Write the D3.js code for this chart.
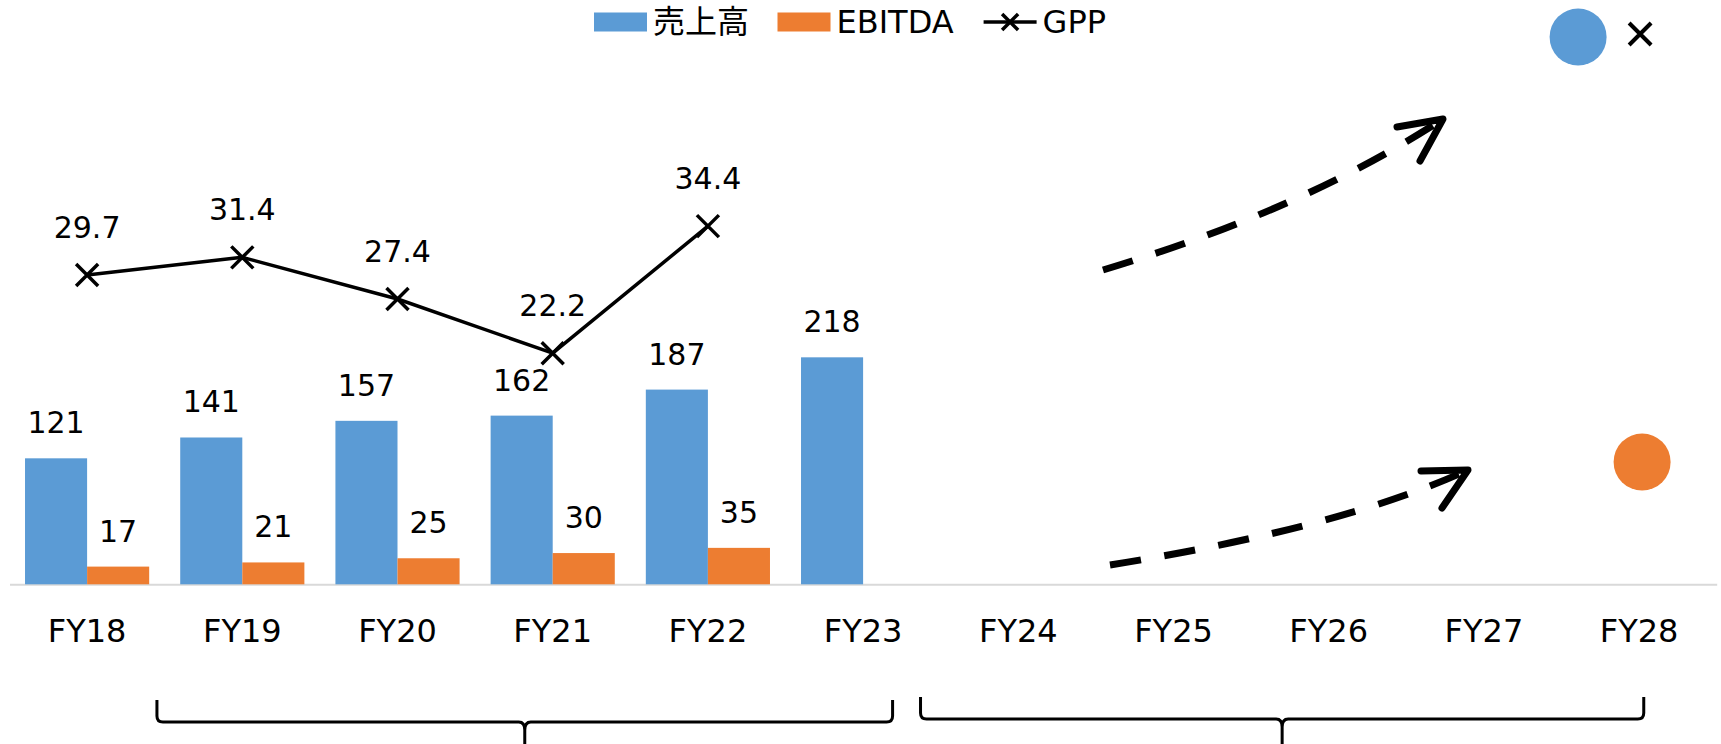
<!DOCTYPE html>
<html>
<head>
<meta charset="utf-8">
<script src="https://cdn.jsdelivr.net/npm/d3@7/dist/d3.min.js"></script>
<style>
  html, body { margin: 0; padding: 0; background: #ffffff; }
  svg { display: block; }
  text { font-family: "DejaVu Sans", "Noto Sans CJK JP", sans-serif; fill: #000; }
</style>
</head>
<body>
<svg id="chart" width="1721" height="744"></svg>
<script>
// Fiscal years on the category axis
const categories = ["FY18", "FY19", "FY20", "FY21", "FY22", "FY23", "FY24", "FY25", "FY26", "FY27", "FY28"];
// 売上高 (sales)
const sales = [121, 141, 157, 162, 187, 218, null, null, null, null, null];
// EBITDA
const ebitda = [17, 21, 25, 30, 35, null, null, null, null, null, null];
// GPP (secondary axis)
const gpp = [29.7, 31.4, 27.4, 22.2, 34.4, null, null, null, null, null, null];
// Legend entries
const legendLabels = ["売上高", "EBITDA", "GPP"];
// Period groupings shown by the braces under the axis (category index span)
const periodSpans = [[0.45, 5.19], [5.37, 10.03]];

const colors = { sales: "#5b9bd5", ebitda: "#ed7d31", gpp: "#000000" };

const svg = d3.select("#chart");
const baseY = 584.3, topY = 324;

const x = d3.scaleBand().domain(categories).range([9.5, 1716.7]).padding(0);
const xs = d3.scaleBand().domain(["sales", "ebitda"]).range([0, x.bandwidth()])
  .paddingInner(0).paddingOuter(0.25);
const y1 = d3.scaleLinear().domain([0, 250]).range([baseY, topY]);
const y2 = d3.scaleLinear().domain([0, 25]).range([baseY, topY]);
const cx = c => x(c) + x.bandwidth() / 2;
const idxX = i => x.range()[0] + (i + 0.5) * x.step();

// category axis
const axis = svg.append("g").attr("transform", `translate(0,${baseY})`)
  .call(d3.axisBottom(x).tickSize(0).tickSizeOuter(0).tickPadding(35));
axis.select(".domain").attr("stroke", "#d9d9d9").attr("stroke-width", 2);
axis.selectAll("text").attr("font-size", 32)
  .attr("font-family", "\"DejaVu Sans\", sans-serif").attr("fill", "#000");

// bars
const barData = [];
categories.forEach((c, i) => {
  if (sales[i] != null) barData.push({ c, key: "sales", v: sales[i] });
  if (ebitda[i] != null) barData.push({ c, key: "ebitda", v: ebitda[i] });
});
svg.append("g").selectAll("rect").data(barData).join("rect")
  .attr("x", d => x(d.c) + xs(d.key))
  .attr("width", xs.bandwidth())
  .attr("y", d => y1(d.v))
  .attr("height", d => baseY - y1(d.v))
  .attr("fill", d => colors[d.key]);

svg.append("g").selectAll("text").data(barData).join("text")
  .attr("x", d => x(d.c) + xs(d.key) + xs.bandwidth() / 2)
  .attr("y", d => y1(d.v) - 25)
  .attr("text-anchor", "middle")
  .attr("font-size", 30)
  .text(d => d.v);

// GPP line with x markers
const gppData = categories.map((c, i) => ({ c, v: gpp[i] })).filter(d => d.v != null);
svg.append("path").datum(gppData)
  .attr("fill", "none").attr("stroke", colors.gpp).attr("stroke-width", 3.5)
  .attr("stroke-linejoin", "round")
  .attr("d", d3.line().x(d => cx(d.c)).y(d => y2(d.v)));

const cross = s => `M${-s},${-s}L${s},${s}M${-s},${s}L${s},${-s}`;
svg.append("g").selectAll("path").data(gppData).join("path")
  .attr("transform", d => `translate(${cx(d.c)},${y2(d.v)})`)
  .attr("d", cross(11))
  .attr("stroke", colors.gpp).attr("stroke-width", 3.5).attr("fill", "none");

svg.append("g").selectAll("text").data(gppData).join("text")
  .attr("x", d => cx(d.c))
  .attr("y", d => y2(d.v) - 37.5)
  .attr("text-anchor", "middle")
  .attr("font-size", 30)
  .text(d => d.v.toFixed(1));

// legend
const legend = svg.append("g");
const legendX = [594, 777.5, 983.6];
legendLabels.forEach((lab, i) => {
  const g = legend.append("g").attr("transform", `translate(${legendX[i]},0)`);
  if (i < 2) {
    g.append("rect").attr("x", 0).attr("y", 12.5).attr("width", 53).attr("height", 19)
      .attr("fill", i === 0 ? colors.sales : colors.ebitda);
  } else {
    g.append("line").attr("x1", 0).attr("x2", 53).attr("y1", 22).attr("y2", 22)
      .attr("stroke", colors.gpp).attr("stroke-width", 3.5);
    g.append("path").attr("transform", "translate(26.5,22)").attr("d", cross(8))
      .attr("stroke", colors.gpp).attr("stroke-width", 3.5);
  }
  g.append("text").attr("x", 59).attr("y", 33.3).attr("font-size", 32).text(lab);
});

// outlook markers for FY28
const fy28 = cx("FY28");
svg.append("circle").attr("cx", fy28 - 61).attr("cy", 37).attr("r", 28.5).attr("fill", colors.sales);
svg.append("path").attr("transform", `translate(${fy28 + 1},34)`).attr("d", cross(11))
  .attr("stroke", "#000").attr("stroke-width", 4);
svg.append("circle").attr("cx", fy28 + 3).attr("cy", 462).attr("r", 28.5).attr("fill", colors.ebitda);

// dashed growth arrows
const arrows = [
  { path: "M1103,270 Q1303,210 1443,119", head: "M1397,127 L1443,119 L1420,161" },
  { path: "M1110,565 Q1341,528 1468,470", head: "M1421,471 L1468,470 L1442,508" }
];
const ag = svg.append("g");
arrows.forEach(a => {
  ag.append("path").attr("d", a.path).attr("fill", "none").attr("stroke", "#000")
    .attr("stroke-width", 7).attr("stroke-dasharray", "31 24");
  ag.append("path").attr("d", a.head).attr("fill", "none").attr("stroke", "#000")
    .attr("stroke-width", 7).attr("stroke-linecap", "round").attr("stroke-linejoin", "round");
});

// period braces
const braces = [
  { span: periodSpans[0], top: 700, line: 722 },
  { span: periodSpans[1], top: 697, line: 719 }
];
braces.forEach(b => {
  const x0 = idxX(b.span[0]), x1 = idxX(b.span[1]), xm = (x0 + x1) / 2;
  const yL = b.line, yB = 744;
  const d = `M${x0},${b.top} L${x0},${yL - 6} Q${x0},${yL} ${x0 + 6},${yL} L${xm - 6},${yL} Q${xm},${yL} ${xm},${yL + 8} L${xm},${yB}` +
            ` M${xm},${yL + 8} Q${xm},${yL} ${xm + 6},${yL} L${x1 - 6},${yL} Q${x1},${yL} ${x1},${yL - 6} L${x1},${b.top}`;
  svg.append("path").attr("d", d).attr("fill", "none").attr("stroke", "#000").attr("stroke-width", 3);
});
</script>
</body>
</html>
